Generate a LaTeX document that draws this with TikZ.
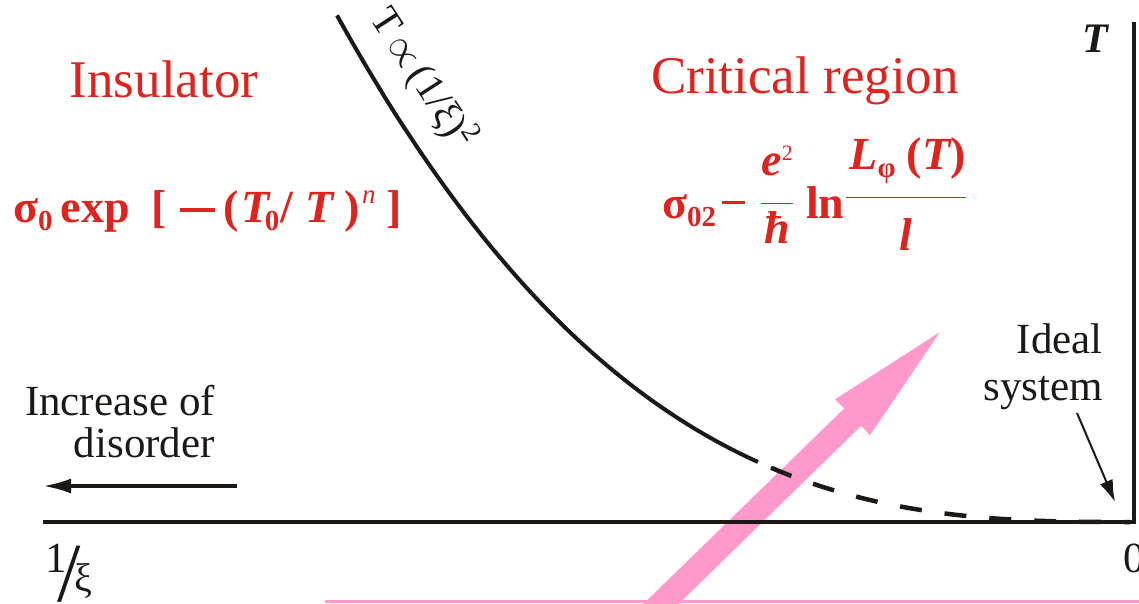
\RequirePackage{fix-cm}
\documentclass[tikz,border=0pt]{standalone}
\usepackage{amsmath}
\usepackage{fontspec}
\setmainfont{Liberation Serif}
\usepackage{tikz}
\usetikzlibrary{arrows.meta,positioning}
\usepackage{xcolor}
\definecolor{rgRed}{RGB}{221,36,31}
\definecolor{rgPink}{RGB}{255,153,204}
\definecolor{rgInk}{RGB}{28,24,22}
\newcommand{\lowidx}[1]{\raisebox{-8pt}{\fontsize{29}{29}\selectfont #1}}
\newcommand{\highidx}[1]{\raisebox{19pt}{\fontsize{27}{27}\selectfont\mdseries #1}}
\newcommand{\minusbar}[2]{\rule[#1]{#2}{3.5pt}}
\tikzset{
    % text styles
    regionlabel/.style={text=rgRed, inner sep=0pt, font=\fontsize{53}{60}\selectfont},
    formula/.style={text=rgRed, inner sep=0pt, font=\fontsize{46}{50}\selectfont\bfseries},
    note/.style={text=rgInk, inner sep=0pt, align=right, font=\fontsize{43}{42}\selectfont},
    axislabel/.style={text=rgInk, inner sep=0pt, font=\fontsize{43}{43}\selectfont},
    % line styles
    axis/.style={rgInk, line width=4.5pt},
    curve/.style={rgInk, line width=4pt},
    pointer/.style={-{Latex[length=28pt,width=15pt]}, rgInk, line width=3.5pt}
}

\begin{document}
\begin{tikzpicture}[x=1pt,y=-1pt]
    \useasboundingbox (0,0) rectangle (1139,603);
    \clip (0,0) rectangle (1139,603);

    % Pink guide line and thick arrow
    \coordinate (pinkL) at (325,601.5);
    \coordinate (pinkR) at (1139,601.5);
    \draw[rgPink, line width=3pt] (pinkL) -- (pinkR);
    \fill[rgPink] (636,611) -- (844.1,408.5) -- (835.1,399.3) -- (940,332) -- (870,435.1) -- (861.1,425.9) -- (653,629) -- cycle;

    % Axes
    \coordinate (xend) at (43,522);
    \coordinate (orig) at (1134,522);
    \coordinate (ytop) at (1134,22);
    \draw[axis] (xend) -- (orig) -- (ytop);

    % Crossover curve T ~ (1/xi)^2
    \draw[curve] plot[domain=337:758, samples=80] (\x, {522-60*pow((1134-\x)/376,2.84)});
    \draw[curve, line width=4.5pt, dash pattern=on 22pt off 23pt] plot[domain=771:1130, samples=80] (\x, {522-60*pow((1134-\x)/376,2.84)});
    \node[text=rgInk, inner sep=0pt, rotate=-57, font=\fontsize{40}{40}\selectfont] at (423,78) (lawlabel) {T\,$\propto$\,(1/ξ)\textsuperscript{2}};

    % Regions
    \node[regionlabel, anchor=base] at (164,97) (insul) {Insulator};
    \node[regionlabel, anchor=base] at (805,93) (crit) {Critical region};
    \node[formula, anchor=base west] at (13,222) (insf) {σ\lowidx{0}\kern8pt exp\kern22pt[\kern13pt\minusbar{10.5pt}{35pt}\kern8pt(\kern3pt\textit{T}\kern-6pt\lowidx{0}\kern1pt/\kern12pt\textit{T}\kern10pt)\kern2pt\highidx{\textit{n}}\kern11pt]};
    \node[formula, anchor=base west] at (662,218) (critf) {σ\lowidx{02}\kern6pt\minusbar{14pt}{23pt}\kern15pt\raisebox{3pt}{$\dfrac{\raisebox{8pt}{\itshape e\raisebox{15pt}{\fontsize{22}{22}\selectfont\mdseries\upshape 2}}}{\raisebox{3pt}{\itshape ħ}}$}\kern12pt ln\raisebox{9pt}{$\dfrac{\smash[b]{\raisebox{8pt}{\makebox[120pt]{\kern4pt\itshape L\lowidx{\upshape φ}\hfill\upshape(\itshape T\upshape)}}}}{\raisebox{-10pt}{\itshape l}}$}};

    % Notes and pointers
    \node[note, anchor=base east] at (215,457) (disorder) {Increase of\\disorder};
    \coordinate (disA) at (237,486);
    \coordinate (disB) at (43,486);
    \draw[pointer] (disA) -- (disB);
    \node[note, anchor=base east] at (1103,400) (ideal) {Ideal\\[5pt]system};
    \coordinate (idealA) at (1077,413);
    \coordinate (idealB) at (1115,502);
    \draw[pointer, line width=2pt, -{Latex[length=22pt,width=14pt]}] (idealA) -- (idealB);

    % Axis labels
    \node[axislabel, anchor=base, font=\fontsize{42}{42}\selectfont\bfseries\itshape] at (1095,52) (tlabel) {T};
    \node[axislabel, anchor=base] at (1134,572) (zero) {0};
    \node[axislabel, anchor=base west] at (45,601) (invxi) {\raisebox{29pt}{1}\kern-9pt{\fontsize{84}{84}\selectfont /}\kern-7pt\raisebox{10pt}{\fontsize{40}{40}\selectfont ξ}};
\end{tikzpicture}
\end{document}
